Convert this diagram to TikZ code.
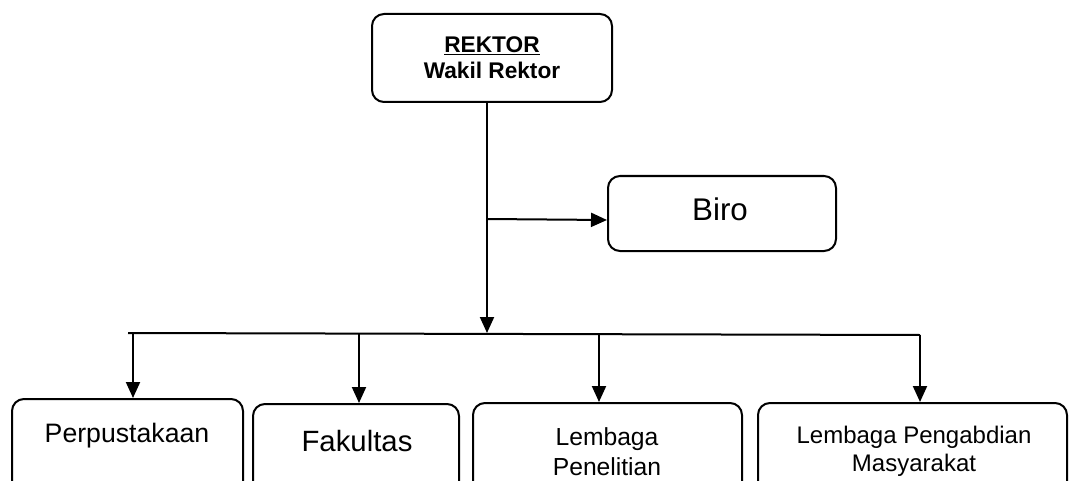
\documentclass[tikz,border=0pt]{standalone}
\usepackage{fontspec}
\setmainfont{Liberation Sans}
\usetikzlibrary{arrows.meta,calc}
\begin{document}
\begin{tikzpicture}[x=0.75pt,y=-0.75pt,
  box/.style={draw,line width=1.5pt,rounded corners=9pt,inner sep=0pt},
  arr/.style={line width=1.5pt,-{Triangle[length=12pt,width=10.5pt]}},
  ln/.style={line width=1.5pt},
  txt/.style={inner sep=0pt,align=center}]
\useasboundingbox (0,0) rectangle (1070,481);
\clip (0,0) rectangle (1070,481);
% boxes
\node[box,minimum width=180pt,minimum height=66pt] (rektor) at (492,58) {};
\node[txt,anchor=north,font=\bfseries\fontsize{17}{19.5}\selectfont] (rektortxt) at (492,36) {\underline{REKTOR}\\Wakil Rektor};
\node[box,minimum width=171pt,minimum height=56.25pt] (biro) at (722,213.5) {};
\node[txt,anchor=base,font=\fontsize{23.5}{28}\selectfont] (birotxt) at (720,220) {Biro};
\node[box,minimum width=173.25pt,minimum height=75.75pt] (perp) at (127.5,449.5) {};
\node[txt,anchor=base,font=\fontsize{20}{24}\selectfont] (perptxt) at (127,442) {Perpustakaan};
\node[box,minimum width=154.5pt,minimum height=72pt] (fak) at (356,452) {};
\node[txt,anchor=base,font=\fontsize{22}{26}\selectfont] (faktxt) at (357,451) {Fakultas};
\node[box,minimum width=201.75pt,minimum height=72.75pt] (lp) at (607.5,451.5) {};
\node[txt,anchor=north,font=\fontsize{18.5}{22.5}\selectfont] (lptxt) at (607,427) {Lembaga\\Penelitian};
\node[box,minimum width=231.75pt,minimum height=72.75pt] (lpm) at (912.5,451.5) {};
\node[txt,anchor=north,font=\fontsize{18}{21}\selectfont] (lpmtxt) at (914,426) {Lembaga Pengabdian\\Masyarakat};
% connectors
\coordinate (hl) at (128,333);
\coordinate (hr) at (920,335);
\coordinate (top) at ($(rektor.south)+(-5,0)$);
\coordinate (br) at ($(top)+(0,116)$);
\draw[arr] (top) -- (top |- hl);
\draw[arr] (br) -- ($(biro.west)+(0,6.5)$);
\draw[ln] (hl) -- (hr);
\coordinate (d1) at (133,333);
\coordinate (d2) at (359,334);
\coordinate (d3) at (599,334.5);
\coordinate (d4) at (920,335);
\draw[arr] (d1) -- (d1 |- perp.north);
\draw[arr] (d2) -- (d2 |- fak.north);
\draw[arr] (d3) -- (d3 |- lp.north);
\draw[arr] (d4) -- (d4 |- lpm.north);
\end{tikzpicture}
\end{document}
